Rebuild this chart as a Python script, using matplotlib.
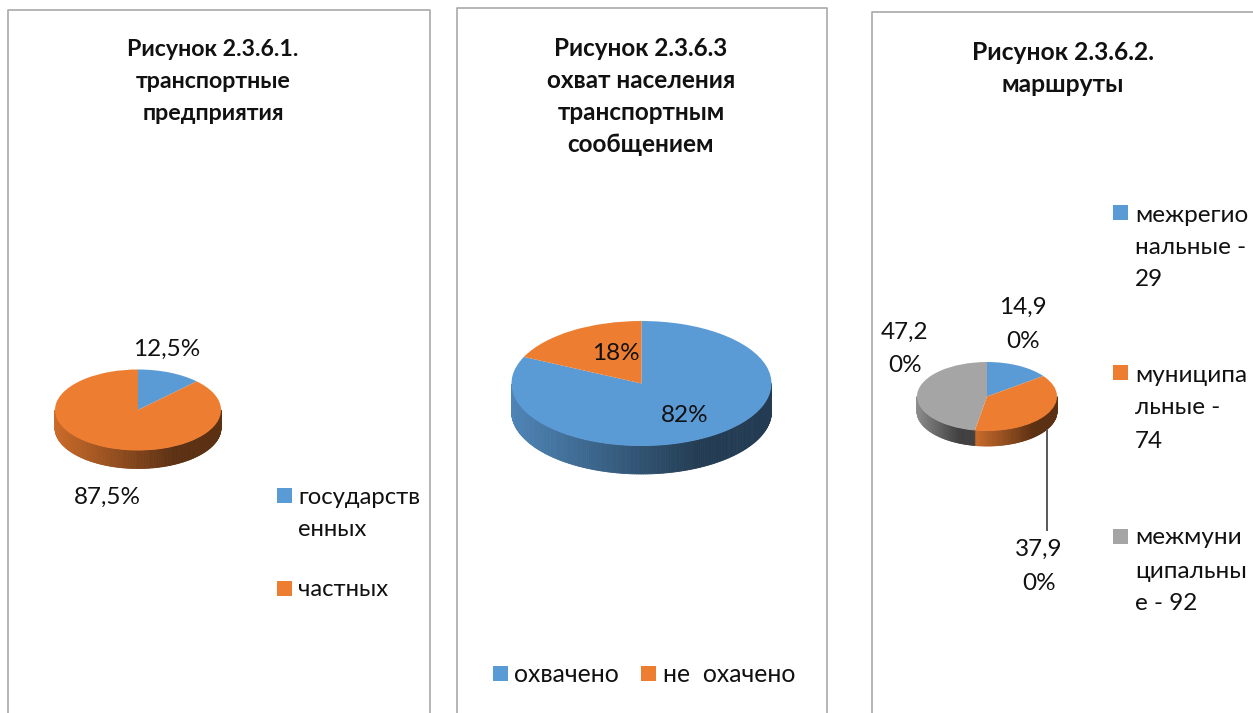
from __future__ import annotations

import matplotlib
matplotlib.use("Agg")
import matplotlib.pyplot as plt
import matplotlib.patches as patches
from matplotlib.collections import PolyCollection
import numpy as np

W, H = 1253, 713

BLUE = "#5B9BD5"
ORANGE = "#ED7D31"
GRAY = "#A5A5A5"
FRAME = "#A9A9A9"
TEXT = "#111111"

plt.rcParams["font.family"] = ["Lato", "Open Sans", "DejaVu Sans"]

TITLE_1 = ["Рисунок 2.3.6.1.", "транспортные", "предприятия"]
TITLE_2 = ["Рисунок 2.3.6.3", "охват населения", "транспортным", "сообщением"]
TITLE_3 = ["Рисунок 2.3.6.2.", "маршруты"]

VALUES_1 = [12.5, 87.5]
VALUES_2 = [82, 18]
VALUES_3 = [14.9, 37.9, 47.2]

LABELS_1 = ["12,5%", "87,5%"]
LABELS_2 = ["82%", "18%"]
LABELS_3 = ["14,9\n0%", "37,9\n0%", "47,2\n0%"]

LEGEND_1 = ["государств\nенных", "частных"]
LEGEND_2 = ["охвачено", "не  охачено"]
LEGEND_3 = ["межрегио\nнальные -\n29", "муниципа\nльные -\n74", "межмуни\nципальны\nе - 92"]


def shade(color, f):
    rgb = np.array(matplotlib.colors.to_rgb(color))
    return tuple(rgb * f)


def draw_pie(fig, values, colors, cx, cy, rx, ry, depth):
    # one axes per pie, squashed so that the circle turns into an ellipse
    m = 1.7
    ax = fig.add_axes([(cx - m * rx) / W, 1 - (cy + m * ry) / H, 2 * m * rx / W, 2 * m * ry / H])
    ax.pie(values, colors=colors, startangle=90, counterclock=False, radius=1, wedgeprops={"linewidth": 0})
    ax.set_aspect("auto")
    ax.set_xlim(-m, m)
    ax.set_ylim(-m, m)
    ax.patch.set_alpha(0)

    d = depth / ry
    fracs = np.cumsum([0] + list(values)) / sum(values)
    polys, cols = [], []
    for i, c in enumerate(colors):
        # clockwise from 12 o'clock, keep only the part on the front half
        a0 = 90 - 360 * fracs[i]
        a1 = 90 - 360 * fracs[i + 1]
        angs = np.arange(a1, a0 + 0.5, 1.0)
        angs = np.concatenate([angs, angs + 360])
        angs = np.sort(angs[(angs >= 180) & (angs <= 360)])
        if len(angs) < 2:
            continue
        th = np.radians(angs)
        xs = np.cos(th)
        x_lo, x_hi = xs.min(), xs.max()
        for k in range(len(th) - 1):
            t = ((xs[k] + xs[k + 1]) / 2 - x_lo) / max(x_hi - x_lo, 1e-6)
            f = 0.86 - 0.47 * min(t / 0.72, 1)
            polys.append([
                (xs[k], np.sin(th[k])),
                (xs[k + 1], np.sin(th[k + 1])),
                (xs[k + 1], np.sin(th[k + 1]) - d),
                (xs[k], np.sin(th[k]) - d),
            ])
            cols.append(shade(c, f))
    wall = PolyCollection(polys, facecolors=cols, edgecolors=cols, linewidths=0.6, zorder=0.5)
    ax.add_collection(wall)
    return ax


def put_lines(bg, x, ys, lines, **kw):
    for y, s in zip(ys, lines):
        bg.text(x, y, s, va="center", color=TEXT, **kw)


def marker(bg, x, y, color):
    bg.add_patch(patches.Rectangle((x - 7.5, y - 7.5), 15, 15, fc=color, ec="none"))


def main() -> None:
    fig = plt.figure(figsize=(W / 100, H / 100), dpi=100, facecolor="white")
    bg = fig.add_axes([0, 0, 1, 1])
    bg.set_xlim(0, W)
    bg.set_ylim(H, 0)
    bg.axis("off")

    # panel frames run off the bottom of the picture
    bg.plot([8, 8, 430, 430], [H, 10, 10, H], color=FRAME, lw=1.2)
    bg.plot([456.5, 456.5, 827, 827], [H, 8, 8, H], color=FRAME, lw=1.2)
    bg.plot([871.5, 871.5, W], [H, 12, 12], color=FRAME, lw=1.2)

    draw_pie(fig, VALUES_1, [BLUE, ORANGE], 138, 410, 83, 40.5, 18)
    draw_pie(fig, VALUES_2, [BLUE, ORANGE], 641.5, 383.5, 130, 62.5, 28)
    draw_pie(fig, VALUES_3, [BLUE, ORANGE, GRAY], 987, 396.5, 70, 34.5, 15)

    overlay = fig.add_axes([0, 0, 1, 1])
    overlay.set_xlim(0, W)
    overlay.set_ylim(H, 0)
    overlay.axis("off")
    overlay.patch.set_alpha(0)

    fs = 17.5
    put_lines(overlay, 213, [50, 82, 114], TITLE_1, ha="center", fontsize=16.7, fontweight="bold")
    put_lines(overlay, 641, [48, 81, 113, 144], TITLE_2, ha="center", fontsize=17.5, fontweight="bold")
    put_lines(overlay, 1063, [53, 84], TITLE_3, ha="center", fontsize=17.7, fontweight="bold")

    put_lines(overlay, 167, [349], [LABELS_1[0]], ha="center", fontsize=fs)
    put_lines(overlay, 107, [497], [LABELS_1[1]], ha="center", fontsize=fs)
    put_lines(overlay, 685, [415], [LABELS_2[0]], ha="center", fontsize=fs)
    put_lines(overlay, 616, [353], [LABELS_2[1]], ha="center", fontsize=fs)
    put_lines(overlay, 1023, [307, 341], LABELS_3[0].split("\n"), ha="center", fontsize=fs)
    put_lines(overlay, 1039, [549, 583], LABELS_3[1].split("\n"), ha="center", fontsize=fs)
    put_lines(overlay, 905, [332, 365], LABELS_3[2].split("\n"), ha="center", fontsize=fs)
    overlay.plot([1047, 1047], [430, 530], color="#595959", lw=1.4)

    marker(overlay, 284, 495, BLUE)
    put_lines(overlay, 298, [498, 529], LEGEND_1[0].split("\n"), fontsize=17.2)
    marker(overlay, 284, 588, ORANGE)
    put_lines(overlay, 298, [589], [LEGEND_1[1]], fontsize=17.2)

    marker(overlay, 500, 673, BLUE)
    put_lines(overlay, 514, [674], [LEGEND_2[0]], fontsize=17.8)
    marker(overlay, 648, 673, ORANGE)
    put_lines(overlay, 663, [674], [LEGEND_2[1]], fontsize=17.8)

    marker(overlay, 1120, 212, BLUE)
    put_lines(overlay, 1135, [215, 247, 279], LEGEND_3[0].split("\n"), fontsize=fs)
    marker(overlay, 1120, 372, ORANGE)
    put_lines(overlay, 1135, [375, 408, 441], LEGEND_3[1].split("\n"), fontsize=fs)
    marker(overlay, 1120, 536, GRAY)
    put_lines(overlay, 1135, [537, 571, 603], LEGEND_3[2].split("\n"), fontsize=fs)

    fig.savefig("out.png", dpi=100)
    plt.close(fig)


if __name__ == "__main__":
    main()
